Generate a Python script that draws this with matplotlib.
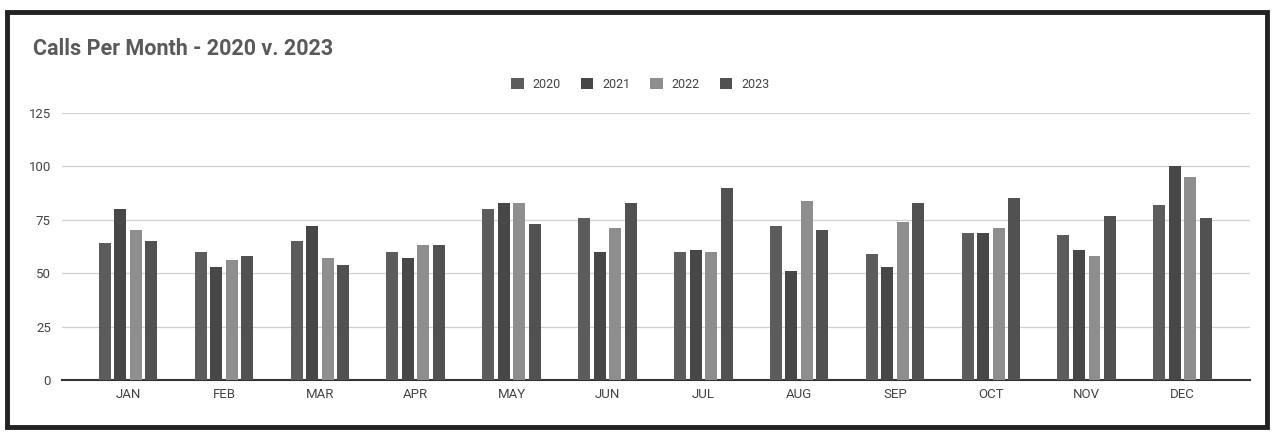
import matplotlib.pyplot as plt
from matplotlib.patches import Rectangle
import numpy as np

plt.rcParams['font.family'] = ['Roboto', 'DejaVu Sans']

months = ['JAN', 'FEB', 'MAR', 'APR', 'MAY', 'JUN', 'JUL', 'AUG', 'SEP', 'OCT', 'NOV', 'DEC']
years = ['2020', '2021', '2022', '2023']

calls_2020 = [64, 60, 65, 60, 80, 76, 60, 72, 59, 69, 68, 82]
calls_2021 = [80, 53, 72, 57, 83, 60, 61, 51, 53, 69, 61, 100]
calls_2022 = [70, 56, 57, 63, 83, 71, 60, 84, 74, 71, 58, 95]
calls_2023 = [65, 58, 54, 63, 73, 83, 90, 70, 83, 85, 77, 76]

colors = ['#5c5c5c', '#474747', '#8e8e8e', '#515151']

fig = plt.figure(figsize=(12.73, 4.34), dpi=100)
ax = fig.add_axes([0.0487, 0.1244, 0.933, 0.6152])

x = np.arange(len(months))
width = 0.125
step = 0.162
for i, (vals, label) in enumerate(zip([calls_2020, calls_2021, calls_2022, calls_2023], years)):
    ax.bar(x + (i - 1.5) * step, vals, width, color=colors[i], label=label, zorder=3)

ax.set_ylim(0, 125)
ax.set_xlim(-0.69, 11.7)
ax.set_yticks([0, 25, 50, 75, 100, 125])
ax.set_xticks(x)
ax.set_xticklabels(months)
ax.tick_params(axis='both', length=0, labelsize=9.5, colors='#444444')
ax.tick_params(axis='x', pad=6)
ax.tick_params(axis='y', pad=8)
ax.grid(axis='y', color='#d0d0d0', linewidth=0.9, zorder=0)
for side in ['top', 'right', 'left']:
    ax.spines[side].set_visible(False)
ax.spines['bottom'].set_color('#333333')
ax.spines['bottom'].set_linewidth(1.5)

# title and legend sit above the plot area
fig.text(0.026, 0.888, 'Calls Per Month - 2020 v. 2023', fontsize=15.5,
         fontweight='bold', color='#5a5a5a', va='center', ha='left')
fig.legend(loc='center', bbox_to_anchor=(0.503, 0.805), ncol=4, frameon=False,
           fontsize=9, handlelength=1.0, handleheight=1.0, handletextpad=0.7,
           columnspacing=1.6, labelcolor='#444444')

# dark frame round the whole card
fig.add_artist(Rectangle((7 / 1273, 7 / 434), 1260 / 1273, 415 / 434,
                         transform=fig.transFigure, fill=False,
                         edgecolor='#222222', linewidth=3.5))

fig.savefig('out.png', dpi=100)
